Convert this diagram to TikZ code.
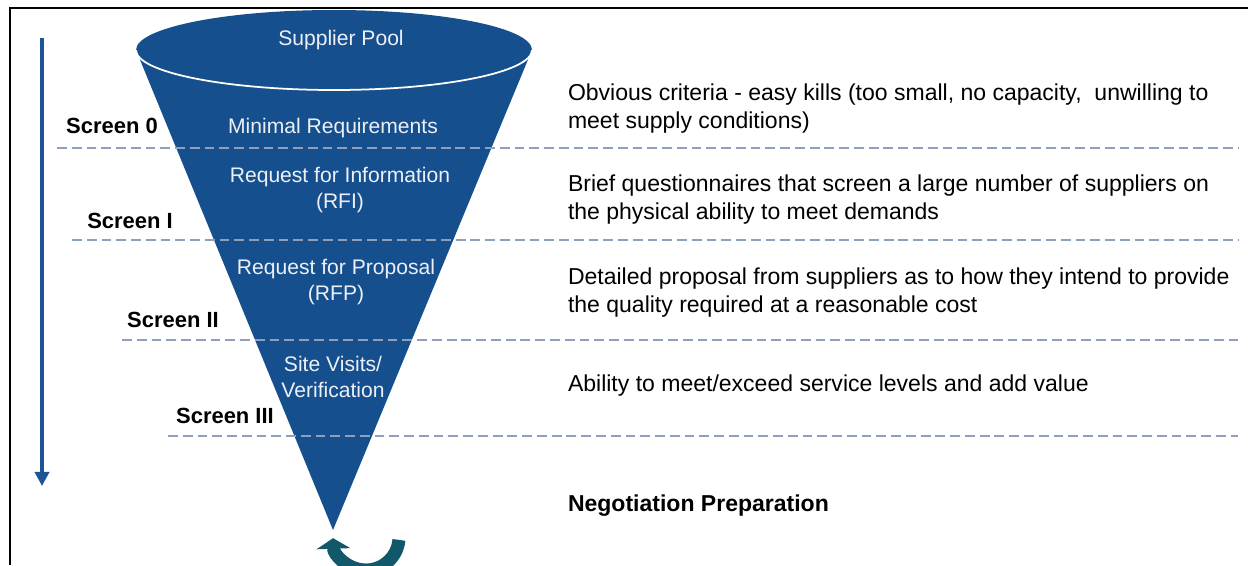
\documentclass[tikz,border=0pt]{standalone}
\usepackage{fontspec}
\setmainfont{Liberation Sans}
\usetikzlibrary{arrows.meta}
\definecolor{funnelblue}{RGB}{22,79,142}
\definecolor{arrowblue}{RGB}{28,84,150}
\definecolor{screengray}{RGB}{140,160,190}
\definecolor{loopteal}{RGB}{16,88,106}
\definecolor{paletext}{RGB}{236,240,246}
\begin{document}
\begin{tikzpicture}[x=0.02cm,y=-0.02cm,inner sep=0pt,outer sep=0pt,
funneltext/.style={text=paletext,align=center,font=\fontsize{12}{14.8}\selectfont},
screenlabel/.style={font=\fontsize{12.5}{15}\selectfont\bfseries},
note/.style={anchor=west,align=left,font=\fontsize{13.1}{15.9}\selectfont},
screenline/.style={draw=screengray,line width=0.9pt,dash pattern=on 5.6pt off 2.8pt}]

\useasboundingbox (0,0) rectangle (1248,565);
\draw[line width=1.4pt] (10,565) -- (10,8) -- (1248,8);

% funnel
\fill[funnelblue] (136,50) -- (333,530) -- (532,50) arc[start angle=0,end angle=-180,x radius=198,y radius=40] -- cycle;
\draw[white,line width=1pt] (136,50) arc[start angle=180,end angle=0,x radius=198,y radius=40];

% screens
\coordinate (s0) at (57,148);   \coordinate (e0) at (1238,148);
\coordinate (s1) at (72,240);   \coordinate (e1) at (1238,240);
\coordinate (s2) at (122,340);  \coordinate (e2) at (1238,340);
\coordinate (s3) at (168,436);  \coordinate (e3) at (1238,436);
\draw[screenline] (s0) -- (e0);
\draw[screenline] (s1) -- (e1);
\draw[screenline] (s2) -- (e2);
\draw[screenline] (s3) -- (e3);

\draw (112,126) node[screenlabel] (scr0) {Screen 0};
\draw (130,221) node[screenlabel] (scr1) {Screen I};
\draw (173,320) node[screenlabel] (scr2) {Screen II};
\draw (225,416) node[screenlabel] (scr3) {Screen III};

\draw (341,40) node[funneltext] (pool) {Supplier Pool};
\draw (333,128) node[funneltext] (minreq) {Minimal Requirements};
\draw (340,190) node[funneltext] (rfi) {Request for Information\\(RFI)};
\draw (336,282) node[funneltext] (rfp) {Request for Proposal\\(RFP)};
\draw (333,377) node[funneltext] (visits) {Site Visits/\\Verification};

\draw (568,109) node[note] (obvious) {Obvious criteria - easy kills (too small, no capacity,\ \ unwilling to\\meet supply conditions)};
\draw (568,200) node[note] (brief) {Brief questionnaires that screen a large number of suppliers on\\the physical ability to meet demands};
\draw (568,293) node[note] (detailed) {Detailed proposal from suppliers as to how they intend to provide\\the quality required at a reasonable cost};
\draw (568,386) node[note] (ability) {Ability to meet/exceed service levels and add value};
\draw (568,506) node[note,font=\fontsize{13.1}{15.9}\selectfont\bfseries] (negot) {Negotiation Preparation};

% progress arrow and loop
\coordinate (downtop) at (42,38);
\coordinate (downend) at (42,486);
\draw[arrowblue,line width=2.3pt,-{Triangle[length=8pt,width=8pt]}] (downtop) -- (downend);
\coordinate (loopstart) at (398.9,539.9);
\draw[loopteal,line width=7.4pt,-{Triangle[length=6pt,width=19pt]}] (loopstart) arc[start angle=5,end angle=178,radius=33];
\end{tikzpicture}
\end{document}
